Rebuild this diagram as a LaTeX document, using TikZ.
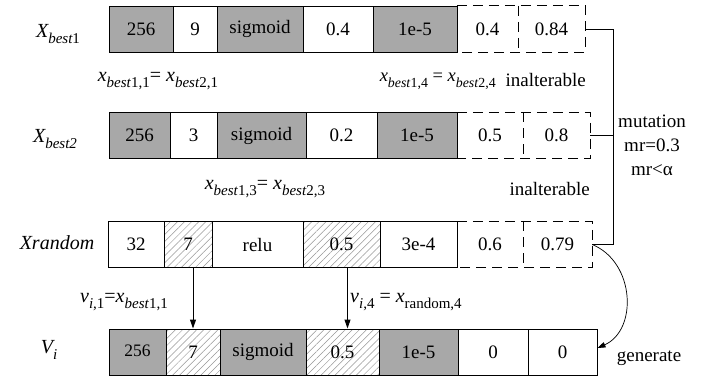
\documentclass[tikz,border=0pt]{standalone}
\usepackage{fontspec}
\setmainfont{Liberation Serif}
\usetikzlibrary{arrows.meta,patterns.meta}
\definecolor{cellgray}{RGB}{168,168,168}
\definecolor{hatchgray}{RGB}{150,150,150}
\newcommand\lsub[1]{\raisebox{-0.32em}{\scalebox{0.75}{#1}}}
\newcommand\mkcell[6]{\node[#5, minimum width={(#3-#2)*1pt}] (#1) at ({(#2+#3)/2},#4) {#6};}
\tikzset{
  cellbase/.style={inner sep=0pt, minimum height=46pt, font=\fontsize{19}{22}\selectfont},
  graycell/.style={cellbase, draw=black, line width=1pt, fill=cellgray},
  whitecell/.style={cellbase, draw=black, line width=1pt, fill=white},
  hatchcell/.style={cellbase, draw=black, line width=1pt,
     pattern={Lines[angle=45,distance=5pt,line width=0.5pt]}, pattern color=hatchgray},
  ghostcell/.style={cellbase},
  dashline/.style={line width=1pt, dash pattern=on 10pt off 6pt},
  rowlabel/.style={inner sep=0pt, font=\fontsize{20}{24}\selectfont\itshape},
  eqlabel/.style={inner sep=0pt, font=\fontsize{20}{24}\selectfont},
  midEq/.style={inner sep=0pt, font=\fontsize{18.5}{22}\selectfont},
  note/.style={inner sep=0pt, font=\fontsize{19}{24}\selectfont},
  bracket/.style={line width=0.8pt},
  arr/.style={line width=1pt, -{Triangle[length=9pt,width=6pt]}},
  arrc/.style={line width=0.7pt, -{Triangle[length=8pt,width=5.5pt]}},
}
\begin{document}
\begin{tikzpicture}[x=1pt,y=-1pt]
\useasboundingbox (0,0) rectangle (703,378);
% row 1
\mkcell{a1}{109}{173}{29}{graycell}{256}
\mkcell{a2}{173}{217}{29}{whitecell}{9}
\mkcell{a3}{217}{303}{29}{graycell}{sigmoid}
\mkcell{a4}{303}{373}{29}{whitecell}{0.4}
\mkcell{a5}{373}{457}{29}{graycell}{1e-5}
\mkcell{a6}{457}{518}{29}{ghostcell}{0.4}
\mkcell{a7}{518}{585}{29}{ghostcell}{0.84}
\draw[dashline] (a6.north west) -- (a7.north east) -- (a7.south east) -- (a6.south west);
\draw[dashline] (a6.north east) -- (a6.south east);
% row 2
\mkcell{b1}{109}{170}{135.5}{graycell}{256}
\mkcell{b2}{170}{217}{135.5}{whitecell}{3}
\mkcell{b3}{217}{306}{135.5}{graycell}{sigmoid}
\mkcell{b4}{306}{377}{135.5}{whitecell}{0.2}
\mkcell{b5}{377}{457}{135.5}{graycell}{1e-5}
\mkcell{b6}{457}{523}{135.5}{ghostcell}{0.5}
\mkcell{b7}{523}{590}{135.5}{ghostcell}{0.8}
\draw[dashline] (b6.north west) -- (b7.north east) -- (b7.south east) -- (b6.south west);
\draw[dashline] (b6.north east) -- (b6.south east);
% row 3
\mkcell{c1}{108}{164}{244.5}{whitecell}{32}
\mkcell{c2}{164}{212}{244.5}{hatchcell}{7}
\mkcell{c3}{212}{303}{244.5}{whitecell}{relu}
\mkcell{c4}{303}{380}{244.5}{hatchcell}{0.5}
\mkcell{c5}{380}{457}{244.5}{whitecell}{3e-4}
\mkcell{c6}{457}{523}{244.5}{ghostcell}{0.6}
\mkcell{c7}{523}{592}{244.5}{ghostcell}{0.79}
\draw[dashline] (c6.north west) -- (c7.north east) -- (c7.south east) -- (c6.south west);
\draw[dashline] (c6.north east) -- (c6.south east);
% row 4
\mkcell{d1}{109}{166}{352}{graycell,font=\fontsize{17.5}{20}\selectfont}{\raisebox{2pt}{256}}
\mkcell{d2}{166}{220}{352}{hatchcell}{7}
\mkcell{d3}{220}{306}{352}{graycell}{sigmoid}
\mkcell{d4}{306}{379}{352}{hatchcell}{0.5}
\mkcell{d5}{379}{458}{352}{graycell}{1e-5}
\mkcell{d6}{458}{528}{352}{whitecell}{0}
\mkcell{d7}{528}{597}{352}{whitecell}{0}
% row labels
\node[rowlabel] (l1) at (58,34) {X\lsub{best\upshape 1}};
\node[rowlabel] (l2) at (55,139) {X\lsub{best2}};
\node[rowlabel] (l3) at (57,243) {Xrandom};
\node[rowlabel] (l4) at (49,350) {V\lsub{i}};
% equality labels
\node[eqlabel] (e1) at (158,81) {\textit{x}\lsub{\textit{best}1,1}= \textit{x}\lsub{\textit{best}2,1}};
\node[midEq,anchor=east] (e2) at (496,81) {\textit{x}\lsub{\textit{best}1,4} = \textit{x}\lsub{\textit{best}2,4}};
\node[eqlabel] (e3) at (265,189) {\textit{x}\lsub{\textit{best}1,3}= \textit{x}\lsub{\textit{best}2,3}};
\node[eqlabel] (e4) at (124,302) {\textit{v}\lsub{\textit{i},1}=\textit{x}\lsub{\textit{best}1,1}};
\node[eqlabel,anchor=west] (e5) at (350,302) {\textit{v}\lsub{\textit{i},4} = \textit{x}\lsub{random,4}};
% inalterable
\node[note,anchor=east] (i1) at (586,80) {inalterable};
\node[note,anchor=east] (i2) at (590,189) {inalterable};
% mutation bracket
\coordinate (bx) at (613,0);
\draw[bracket] (a7.east) -- (a7.east -| bx) -- (c7.east -| bx) -- (c7.east);
\draw[bracket] (b7.east) -- (b7.east -| bx);
\node[note,align=center] (mut) at (652,145) {mutation\\mr=0.3\\mr<α};
% arrows
\draw[arr] (c2.south -| d2.north) -- (d2.north);
\coordinate (t2) at ([xshift=5pt]d4.north);
\draw[arr] (t2 |- c4.south) -- (t2);
\coordinate (g) at ([yshift=4pt]d7.east);
\draw[arrc] (c7.east) .. controls (635,262) and (638,330) .. (g);
\node[note] (gen) at (649,358) {generate};
\end{tikzpicture}
\end{document}
